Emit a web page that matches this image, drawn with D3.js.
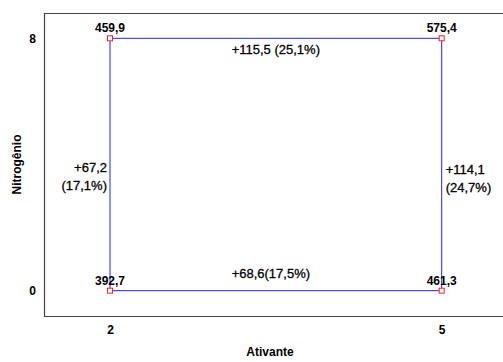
<!DOCTYPE html>
<html>
<head>
<meta charset="utf-8">
<script src="https://cdn.jsdelivr.net/npm/d3@7/dist/d3.min.js"></script>
<style>
  html, body { margin: 0; padding: 0; background: #fff; }
  text { font-family: "Liberation Sans", Arial, sans-serif; fill: #000; }
  text.effect { font-size: 13px; stroke: #000; stroke-width: 0.3px; }
</style>
</head>
<body>
<svg id="chart" width="503" height="362"></svg>
<script>
// Factor levels
const ativanteLevels = [2, 5];
const nitrogenioLevels = [0, 8];

// Response at each corner of the design square
const cornerAtivante   = [2, 5, 5, 2];
const cornerNitrogenio = [8, 8, 0, 0];
const cornerValues     = [459.9, 575.4, 461.3, 392.7];

// Effect labels along each edge
const edgeTop    = ["+115,5 (25,1%)"];
const edgeBottom = ["+68,6(17,5%)"];
const edgeLeft   = ["+67,2", "(17,1%)"];
const edgeRight  = ["+114,1", "(24,7%)"];

const xTickLabels = ["2", "5"];
const yTickLabels = ["0", "8"];

const svg = d3.select("#chart");
const frame = { left: 44, right: 504, top: 13, bottom: 316 };

const x = d3.scaleLinear().domain([2, 5]).range([110, 441.7]);
const y = d3.scaleLinear().domain([0, 8]).range([290.7, 38.3]);

const fmt = v => d3.format(".1f")(v).replace(".", ",");

// Plot frame: left, top and bottom edges
svg.append("path")
  .attr("d", `M${frame.right},${frame.top + 0.5}H${frame.left + 0.5}V${frame.bottom + 0.5}H${frame.right}`)
  .attr("fill", "none")
  .attr("stroke", "#444")
  .attr("stroke-width", 1.2);

// Axes (labels only, no tick marks)
const xAxis = d3.axisBottom(x).tickValues(ativanteLevels)
  .tickFormat((d, i) => xTickLabels[i]).tickSize(0).tickPadding(0);
const gx = svg.append("g").attr("transform", `translate(0,${frame.bottom + 9})`).call(xAxis);
const yAxis = d3.axisLeft(y).tickValues(nitrogenioLevels)
  .tickFormat((d, i) => yTickLabels[i]).tickSize(0).tickPadding(0);
const gy = svg.append("g").attr("transform", `translate(${frame.left - 8},0)`).call(yAxis);
[gx, gy].forEach(g => {
  g.select(".domain").remove();
  g.selectAll("text").style("font-family", "Liberation Sans, Arial, sans-serif")
    .style("font-size", "12px").style("font-weight", "bold").attr("fill", "#000");
});
gy.selectAll("text").attr("dy", "0.35em");

// Axis titles
svg.append("text")
  .attr("x", 270).attr("y", 356)
  .attr("text-anchor", "middle")
  .style("font-size", "12px").style("font-weight", "bold")
  .text("Ativante");
svg.append("text")
  .attr("transform", `translate(21,${(frame.top + frame.bottom) / 2}) rotate(-90)`)
  .attr("text-anchor", "middle")
  .style("font-size", "12px").style("font-weight", "bold")
  .text("Nitrogênio");

// Square connecting the corners
const corners = cornerValues.map((v, i) => ({ a: cornerAtivante[i], n: cornerNitrogenio[i], v }));
const line = d3.line().x(d => x(d.a)).y(d => y(d.n));
svg.append("path")
  .datum(corners.concat([corners[0]]))
  .attr("d", line)
  .attr("fill", "none")
  .attr("stroke", "#2020ff")
  .attr("stroke-width", 1);

// Corner markers
svg.selectAll("rect.marker")
  .data(corners)
  .join("rect")
  .attr("class", "marker")
  .attr("x", d => x(d.a) - 2.5)
  .attr("y", d => y(d.n) - 2.5)
  .attr("width", 5).attr("height", 5)
  .attr("fill", "#fff")
  .attr("stroke", "#ff2020")
  .attr("stroke-width", 1);

// Corner values
svg.selectAll("text.corner")
  .data(corners)
  .join("text")
  .attr("class", "corner")
  .attr("x", d => x(d.a))
  .attr("y", d => y(d.n) - 6)
  .attr("text-anchor", "middle")
  .style("font-size", "12px").style("font-weight", "bold")
  .text(d => fmt(d.v));

// Edge effect labels
const xm = (x(2) + x(5)) / 2;
svg.append("text").attr("class", "effect").attr("x", xm).attr("y", y(8) + 16)
  .attr("text-anchor", "middle")
  .text(edgeTop[0]);
svg.append("text").attr("class", "effect").attr("x", xm - 5).attr("y", y(0) - 13)
  .attr("text-anchor", "middle")
  .text(edgeBottom[0]);
svg.append("g").selectAll("text").data(edgeLeft).join("text")
  .attr("class", "effect")
  .attr("x", x(2) - 3).attr("y", (d, i) => 172 + i * 18)
  .attr("text-anchor", "end")
  .text(d => d);
svg.append("g").selectAll("text").data(edgeRight).join("text")
  .attr("class", "effect")
  .attr("x", x(5) + 4).attr("y", (d, i) => 174 + i * 18)
  .attr("text-anchor", "start")
  .text(d => d);
</script>
</body>
</html>
